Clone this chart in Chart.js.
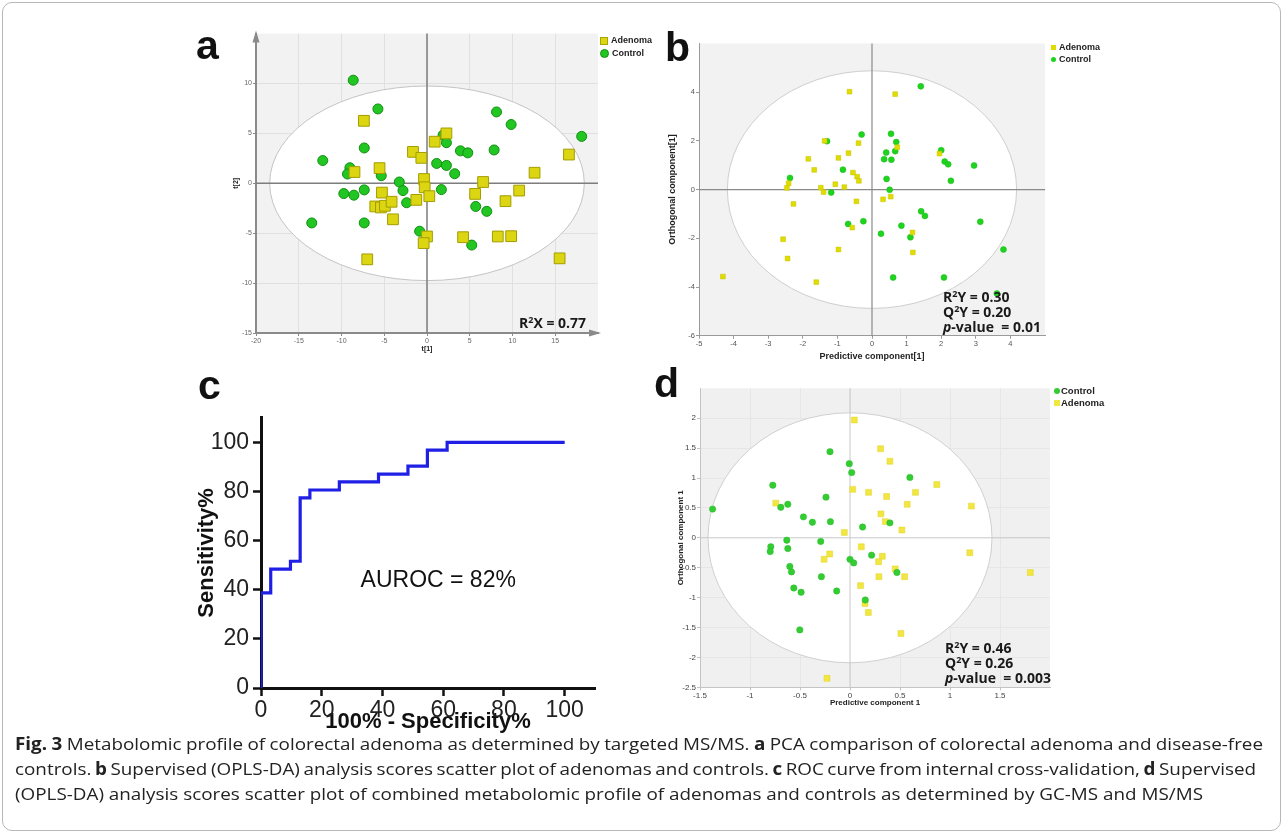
<!DOCTYPE html>
<html>
<head>
<meta charset="utf-8">
<script src="https://cdn.jsdelivr.net/npm/chart.js@4.4.1/dist/chart.umd.min.js"></script>
<style>
  body { margin: 0; background: #fff; width: 1284px; height: 835px; position: relative; overflow: hidden; font-family: Arial, "Liberation Sans", sans-serif; }
  .frame { position: absolute; left: 2px; top: 2px; width: 1279px; height: 829px; border: 1px solid #b8b8b8; border-radius: 10px; box-sizing: border-box; }
  canvas { position: absolute; }
  .tag { position: absolute; font: bold 41px Arial, "Liberation Sans", sans-serif; line-height: 41px; color: #111; }
  .stat { position: absolute; font: bold 14px "Open Sans", sans-serif; line-height: 15px; color: #1a1a1a; white-space: nowrap; }
  .stat sup { font-size: 9px; line-height: 0; vertical-align: 5px; }
  .leg { position: absolute; font: bold 9px Arial, "Liberation Sans", sans-serif; color: #222; white-space: nowrap; }
  .leg i { display: inline-block; vertical-align: middle; margin-right: 3px; }
  .sq { background: #dcd612; border: 1px solid #aaa400; }
  .dot { background: #22c622; border-radius: 50%; }
  .cap { position: absolute; left: 15px; font-family: "Open Sans", sans-serif; font-size: 17px; color: #222; white-space: nowrap; transform-origin: 0 50%; }
</style>
</head>
<body>
<div class="frame"></div>

<canvas id="pca" width="420" height="335" style="left:190px;top:25px"></canvas>
<canvas id="opls" width="395" height="340" style="left:660px;top:30px"></canvas>
<canvas id="roc" width="420" height="345" style="left:190px;top:400px"></canvas>
<canvas id="combined" width="400" height="335" style="left:660px;top:380px"></canvas>

<div class="tag" style="left:196px;top:25px">a</div>
<div class="tag" style="left:665px;top:27px">b</div>
<div class="tag" style="left:198px;top:365px">c</div>
<div class="tag" style="left:654px;top:363px">d</div>

<div class="leg" style="left:600px;top:34px;line-height:12.5px">
  <div><i class="sq" style="width:6px;height:6px"></i>Adenoma</div>
  <div><i class="dot" style="width:7px;height:7px;border:0.5px solid #119011"></i>Control</div>
</div>
<div class="leg" style="left:1051px;top:42px;line-height:11.7px">
  <div><i style="width:5px;height:5px;background:#e0dc00"></i>Adenoma</div>
  <div><i style="width:5px;height:5px;background:#1fd31f;border-radius:50%"></i>Control</div>
</div>
<div class="leg" style="left:1054px;top:385px;line-height:11.5px;font-size:9.5px">
  <div><i style="width:6px;height:6px;background:#33cc33;border-radius:50%;margin-right:1px"></i>Control</div>
  <div><i style="width:6px;height:6px;background:#f2e641;margin-right:1px"></i>Adenoma</div>
</div>

<div class="stat" style="left:519px;top:315px">R<sup>2</sup>X = 0.77</div>
<div class="stat" style="left:943px;top:289px">R<sup>2</sup>Y = 0.30<br>Q<sup>2</sup>Y = 0.20<br><i>p</i>-value&nbsp; = 0.01</div>
<div class="stat" style="left:945px;top:640px">R<sup>2</sup>Y = 0.46<br>Q<sup>2</sup>Y = 0.26<br><i>p</i>-value&nbsp; = 0.003</div>

<div class="cap" id="cap1" style="top:732px"><b>Fig. 3</b> Metabolomic profile of colorectal adenoma as determined by targeted MS/MS. <b>a</b> PCA comparison of colorectal adenoma and disease-free</div>
<div class="cap" id="cap2" style="top:757px">controls. <b>b</b> Supervised (OPLS-DA) analysis scores scatter plot of adenomas and controls. <b>c</b> ROC curve from internal cross-validation, <b>d</b> Supervised</div>
<div class="cap" id="cap3" style="top:782px">(OPLS-DA) analysis scores scatter plot of combined metabolomic profile of adenomas and controls as determined by GC-MS and MS/MS</div>

<script>
// a: PCA scores t[1], t[2]
const pcaAdenoma = [[-7.38,6.26],[-8.48,1.13],[-5.55,1.52],[-5.27,-0.93],[-6.05,-2.32],[-5.39,-2.42],[-4.92,-2.25],
  [-4.14,-1.85],[-3.98,-3.61],[-6.99,-7.62],[-1.64,3.15],[-0.66,2.55],[-0.35,0.43],[-0.27,-0.40],[0.27,-1.29],
  [-1.25,-1.66],[0.90,4.17],[2.27,5.00],[0.00,-5.33],[-0.39,-5.99],[4.22,-5.40],[5.63,-1.06],[6.56,0.13],
  [9.18,-1.79],[10.78,-0.73],[8.28,-5.33],[9.84,-5.30],[12.58,1.06],[16.60,2.88],[15.51,-7.52]];
const pcaControl = [[-8.63,10.33],[-5.74,7.45],[-7.34,3.54],[-12.19,2.28],[-9.02,1.56],[-9.30,0.93],[-5.35,0.76],
  [-3.24,0.13],[-2.81,-0.73],[-7.34,-0.66],[-9.73,-1.03],[-8.55,-1.19],[-2.38,-1.95],[-13.48,-3.97],[-7.34,-3.97],
  [-0.86,-4.80],[1.88,4.83],[2.27,4.07],[1.13,1.99],[2.27,1.79],[3.24,0.96],[3.91,3.25],[4.77,3.05],[1.68,-0.63],
  [5.70,-2.32],[6.99,-2.81],[5.23,-6.19],[8.13,7.15],[9.84,5.89],[7.85,3.34],[18.09,4.70]];
const pcaXTicks = [-20, -15, -10, -5, 0, 5, 10, 15];
const pcaYTicks = [-15, -10, -5, 0, 5, 10];

// b: OPLS-DA, predictive vs orthogonal component
const oplsAdenoma = [[-0.65,4.02],[0.67,3.92],[-1.37,2.00],[-0.39,1.91],[0.73,1.74],[-1.84,1.26],[-0.97,1.30],
  [-0.68,1.50],[-1.67,0.81],[-0.55,0.70],[-0.43,0.53],[-0.38,0.36],[-2.41,0.26],[-2.46,0.07],[-1.48,0.08],
  [-1.40,-0.10],[-1.06,0.22],[-0.80,0.10],[-2.27,-0.59],[-0.45,-0.48],[0.32,-0.40],[0.54,-0.29],[-0.57,-1.56],
  [-2.57,-2.04],[-2.44,-2.83],[-0.97,-2.46],[-1.61,-3.80],[-4.31,-3.57],[1.17,-1.76],[1.18,-2.58],[1.95,1.48]];
const oplsControl = [[1.41,4.24],[-1.30,1.99],[-0.30,2.26],[0.55,2.29],[0.70,1.95],[0.41,1.52],[0.67,1.58],
  [0.35,1.25],[0.56,1.23],[-0.84,0.82],[0.42,0.44],[0.51,-0.01],[-2.37,0.48],[-1.18,-0.12],[-0.69,-1.41],
  [-0.25,-1.30],[0.26,-1.81],[0.85,-1.48],[1.11,-1.96],[1.42,-0.89],[1.53,-1.08],[0.61,-3.61],[2.00,1.62],
  [2.10,1.15],[2.20,1.04],[2.28,0.36],[2.95,0.99],[3.13,-1.32],[3.80,-2.46],[2.08,-3.61],[3.61,-4.27]];
const oplsXTicks = [-5, -4, -3, -2, -1, 0, 1, 2, 3, 4];
const oplsYTicks = [-6, -4, -2, 0, 2, 4];

// c: ROC curve from cross-validation (100% - specificity, sensitivity)
const rocFpr = [0, 0, 3.2, 9.7, 12.9, 16.1, 25.8, 38.7, 48.4, 54.8, 61.3, 71.0, 100];
const rocTpr = [0, 16.1, 38.7, 48.4, 51.6, 77.4, 80.6, 83.9, 87.1, 90.3, 96.8, 100, 100];
const rocTicks = [0, 20, 40, 60, 80, 100];

// d: combined GC-MS + MS/MS OPLS-DA
const combControl = [[-1.374,0.48],[-0.772,0.88],[-0.692,0.51],[-0.622,0.56],[-0.466,0.35],[-0.376,0.26],
  [-0.240,0.68],[-0.196,0.27],[-0.200,1.44],[-0.007,1.24],[0.017,1.09],[0.599,1.01],[0.126,0.18],[0.399,0.25],
  [-0.632,-0.04],[-0.622,-0.18],[-0.792,-0.15],[-0.798,-0.23],[-0.293,-0.06],[-0.602,-0.48],[-0.585,-0.57],
  [-0.286,-0.65],[-0.562,-0.84],[-0.489,-0.91],[-0.133,-0.89],[0.000,-0.36],[0.037,-0.42],[0.216,-0.29],
  [0.469,-0.58],[0.153,-1.04],[-0.502,-1.54]];
const combAdenoma = [[0.043,1.97],[0.306,1.49],[0.399,1.28],[0.868,0.89],[0.027,0.81],[0.186,0.76],[0.655,0.76],
  [0.366,0.69],[0.572,0.56],[1.214,0.53],[-0.742,0.58],[0.309,0.40],[0.353,0.27],[0.519,0.13],[-0.057,0.09],
  [0.113,-0.15],[-0.203,-0.27],[-0.259,-0.36],[0.323,-0.31],[0.286,-0.40],[0.452,-0.52],[0.289,-0.65],
  [0.546,-0.65],[0.106,-0.80],[0.150,-1.10],[0.183,-1.25],[0.509,-1.60],[1.198,-0.25],[1.803,-0.58],[-0.230,-2.35]];
const combXTicks = [-1.5, -1, -0.5, 0, 0.5, 1, 1.5];
const combYTicks = [-2.5, -2, -1.5, -1, -0.5, 0, 0.5, 1, 1.5, 2];

// Hotelling T2 ellipse half-axes (data units)
const pcaEllipse = [18.4, 9.75];
const oplsEllipse = [4.18, 4.88];
const combEllipse = [1.42, 2.09];

// printed caption line widths (first two lines are justified)
const captionWidths = [1248, 1241, 1188];

const toXY = arr => arr.map(p => ({ x: p[0], y: p[1] }));
const sans = 'Arial, "Liberation Sans", sans-serif';
const fixedTicks = list => s => { s.ticks = list.map(v => ({ value: v })); };
const plainNum = v => String(v);

// grey plot background, white confidence ellipse, zero lines, axis arrows
const scorePlot = {
  id: 'scorePlot',
  beforeDraw(chart, args, o) {
    const { ctx, chartArea: a } = chart;
    ctx.save();
    ctx.fillStyle = o.bg;
    ctx.fillRect(a.left, a.top, a.width, a.height);
    ctx.restore();
  },
  beforeDatasetsDraw(chart, args, o) {
    const { ctx, chartArea: a, scales } = chart;
    const cx = scales.x.getPixelForValue(0), cy = scales.y.getPixelForValue(0);
    const rx = scales.x.getPixelForValue(o.r[0]) - cx;
    const ry = cy - scales.y.getPixelForValue(o.r[1]);
    ctx.save();
    ctx.beginPath();
    ctx.ellipse(cx, cy, rx, ry, 0, 0, Math.PI * 2);
    ctx.fillStyle = '#fff';
    ctx.fill();
    ctx.strokeStyle = o.ring;
    ctx.lineWidth = 1;
    ctx.stroke();
    ctx.strokeStyle = o.zero;
    ctx.lineWidth = o.zeroWidth;
    ctx.beginPath();
    ctx.moveTo(cx, a.top); ctx.lineTo(cx, a.bottom);
    ctx.moveTo(a.left, cy); ctx.lineTo(a.right, cy);
    ctx.stroke();
    if (o.arrows) {
      ctx.fillStyle = o.arrows;
      ctx.beginPath();
      ctx.moveTo(a.left, a.top - 3); ctx.lineTo(a.left - 3.5, a.top + 9); ctx.lineTo(a.left + 3.5, a.top + 9);
      ctx.closePath(); ctx.fill();
      ctx.beginPath();
      ctx.moveTo(a.right + 3, a.bottom); ctx.lineTo(a.right - 9, a.bottom - 3.5); ctx.lineTo(a.right - 9, a.bottom + 3.5);
      ctx.closePath(); ctx.fill();
    }
    ctx.restore();
  }
};

function scoreChart(id, cfg) {
  return new Chart(document.getElementById(id), {
    type: 'scatter',
    data: { datasets: cfg.datasets },
    options: {
      responsive: false,
      animation: false,
      layout: { padding: cfg.padding },
      plugins: {
        legend: { display: false },
        tooltip: { enabled: false },
        scorePlot: cfg.plot
      },
      scales: {
        x: {
          min: cfg.x.min, max: cfg.x.max,
          afterBuildTicks: fixedTicks(cfg.x.ticks),
          afterFit: s => { s.height = cfg.x.height; },
          ticks: { callback: plainNum, color: cfg.tickColor, font: { family: sans, size: cfg.tickSize }, padding: 1, maxRotation: 0, autoSkip: false },
          grid: { color: cfg.gridColor, drawOnChartArea: cfg.grid, tickLength: 3, tickColor: cfg.axisColor },
          border: { color: cfg.axisColor, width: cfg.axisWidth },
          title: { display: true, text: cfg.x.title, color: '#222', font: { family: sans, size: cfg.titleSize, weight: 'bold' }, padding: { top: 0, bottom: cfg.x.titlePad } }
        },
        y: {
          min: cfg.y.min, max: cfg.y.max,
          afterBuildTicks: fixedTicks(cfg.y.ticks),
          afterFit: s => { s.width = cfg.y.width; },
          ticks: { callback: plainNum, color: cfg.tickColor, font: { family: sans, size: cfg.tickSize }, padding: 1, autoSkip: false },
          grid: { color: cfg.gridColor, drawOnChartArea: cfg.grid, tickLength: 3, tickColor: cfg.axisColor },
          border: { color: cfg.axisColor, width: cfg.axisWidth },
          title: { display: true, text: cfg.y.title, color: '#222', font: { family: sans, size: cfg.titleSize, weight: 'bold' }, padding: { top: cfg.y.titlePad, bottom: 0 } }
        }
      }
    },
    plugins: [scorePlot]
  });
}

// panel a
scoreChart('pca', {
  padding: { top: 8, right: 12, left: 0, bottom: 0 },
  tickColor: '#666', tickSize: 7, titleSize: 7, axisColor: '#8a8a8a', axisWidth: 2,
  grid: true, gridColor: '#e0e0e0',
  plot: { bg: '#f2f2f2', ring: '#c4c4c4', zero: '#7d7d7d', zeroWidth: 1.5, r: pcaEllipse, arrows: '#8a8a8a' },
  x: { min: -20, max: 20, ticks: pcaXTicks, height: 27, title: 't[1]', titlePad: 7 },
  y: { min: -15, max: 15, ticks: pcaYTicks, width: 66, title: 't[2]', titlePad: 42 },
  datasets: [
    { label: 'Adenoma', data: toXY(pcaAdenoma), pointStyle: 'rect', pointRadius: 7.6, backgroundColor: '#dcd612', borderColor: '#a39d00', borderWidth: 1 },
    { label: 'Control', data: toXY(pcaControl), pointStyle: 'circle', pointRadius: 5, backgroundColor: '#22c622', borderColor: '#118f11', borderWidth: 1 }
  ]
});

// panel b
scoreChart('opls', {
  padding: { top: 13.5, right: 10, left: 0, bottom: 0 },
  tickColor: '#555', tickSize: 7.5, titleSize: 9, axisColor: '#9a9a9a', axisWidth: 1,
  grid: false, gridColor: '#e0e0e0',
  plot: { bg: '#f2f2f2', ring: '#cfcfcf', zero: '#8a8a8a', zeroWidth: 1.2, r: oplsEllipse, arrows: null },
  x: { min: -5, max: 5, ticks: oplsXTicks, height: 34.3, title: 'Predictive component[1]', titlePad: 7.6 },
  y: { min: -6, max: 6, ticks: oplsYTicks, width: 39, title: 'Orthogonal component[1]', titlePad: 7.6 },
  datasets: [
    { label: 'Adenoma', data: toXY(oplsAdenoma), pointStyle: 'rect', pointRadius: 3.4, backgroundColor: '#e0dc00', borderColor: '#c9c400', borderWidth: 0.5 },
    { label: 'Control', data: toXY(oplsControl), pointStyle: 'circle', pointRadius: 3, backgroundColor: '#1fd31f', borderColor: '#19bb19', borderWidth: 0.5 }
  ]
});

// panel d
scoreChart('combined', {
  padding: { top: 8.3, right: 10, left: 0, bottom: 0 },
  tickColor: '#444', tickSize: 8, titleSize: 8, axisColor: '#c4c4c4', axisWidth: 1,
  grid: true, gridColor: '#e6e6e6',
  plot: { bg: '#f0f0f0', ring: '#d0d0d0', zero: '#c8c8c8', zeroWidth: 1, r: combEllipse, arrows: null },
  x: { min: -1.5, max: 2, ticks: combXTicks, height: 27.7, title: 'Predictive component 1', titlePad: 7.5 },
  y: { min: -2.5, max: 2.5, ticks: combYTicks, width: 40, title: 'Orthogonal component 1', titlePad: 16 },
  datasets: [
    { label: 'Control', data: toXY(combControl), pointStyle: 'circle', pointRadius: 3.2, backgroundColor: '#33cc33', borderColor: '#2bbd2b', borderWidth: 0.5 },
    { label: 'Adenoma', data: toXY(combAdenoma), pointStyle: 'rect', pointRadius: 4.2, backgroundColor: '#f2e641', borderColor: '#e3d52c', borderWidth: 0.5 }
  ]
});

// panel c: ROC
const rocPoints = rocFpr.map((x, i) => ({ x: x, y: rocTpr[i] }));
new Chart(document.getElementById('roc'), {
  type: 'line',
  data: {
    datasets: [
      { data: rocPoints, stepped: 'after', borderColor: '#1f1fe6', borderWidth: 3.2, pointRadius: 0, fill: false },
      { data: rocPoints, stepped: 'after', borderColor: '#111', borderWidth: 1, borderDash: [2, 2.5], pointRadius: 0, fill: false }
    ]
  },
  options: {
    responsive: false,
    animation: false,
    layout: { padding: { top: 13, right: 15, left: 0, bottom: 0 } },
    plugins: { legend: { display: false }, tooltip: { enabled: false } },
    scales: {
      x: {
        type: 'linear', min: 0, max: 110,
        afterBuildTicks: fixedTicks(rocTicks),
        afterFit: s => { s.height = 57; },
        ticks: { callback: plainNum, color: '#222', font: { family: sans, size: 23 }, padding: 1, maxRotation: 0, autoSkip: false },
        grid: { drawOnChartArea: false, tickLength: 8, tickWidth: 2.5, tickColor: '#111' },
        border: { color: '#111', width: 3 },
        title: { display: true, text: '100% - Specificity%', color: '#111', font: { family: sans, size: 22, weight: 'bold' }, padding: { top: 0, bottom: 10 } }
      },
      y: {
        min: 0, max: 110,
        afterBuildTicks: fixedTicks(rocTicks),
        afterFit: s => { s.width = 71; },
        ticks: { callback: plainNum, color: '#222', font: { family: sans, size: 23 }, padding: 4, autoSkip: false },
        grid: { drawOnChartArea: false, tickLength: 8, tickWidth: 2.5, tickColor: '#111' },
        border: { color: '#111', width: 3 },
        title: { display: true, text: 'Sensitivity%', color: '#111', font: { family: sans, size: 22, weight: 'bold' }, padding: { top: 4, bottom: 0 } }
      }
    }
  },
  plugins: [{
    id: 'aurocLabel',
    afterDatasetsDraw(chart) {
      const { ctx, scales } = chart;
      ctx.save();
      ctx.font = '23px ' + sans;
      ctx.fillStyle = '#111';
      ctx.textBaseline = 'middle';
      ctx.fillText('AUROC = 82%', scales.x.getPixelForValue(32.8), scales.y.getPixelForValue(43.5));
      ctx.restore();
    }
  }]
});

// caption: one horizontal squeeze taken from the last line, then word spacing fits the others
document.fonts.ready.then(() => {
  const caps = ['cap1', 'cap2', 'cap3'].map(id => document.getElementById(id));
  const k = captionWidths[2] / caps[2].getBoundingClientRect().width;
  caps.forEach((el, i) => {
    const natural = el.getBoundingClientRect().width;
    const spaces = (el.textContent.match(/ /g) || []).length;
    el.style.wordSpacing = ((captionWidths[i] / k - natural) / spaces) + 'px';
    el.style.transform = 'scaleX(' + k + ')';
  });
});
</script>
</body>
</html>
